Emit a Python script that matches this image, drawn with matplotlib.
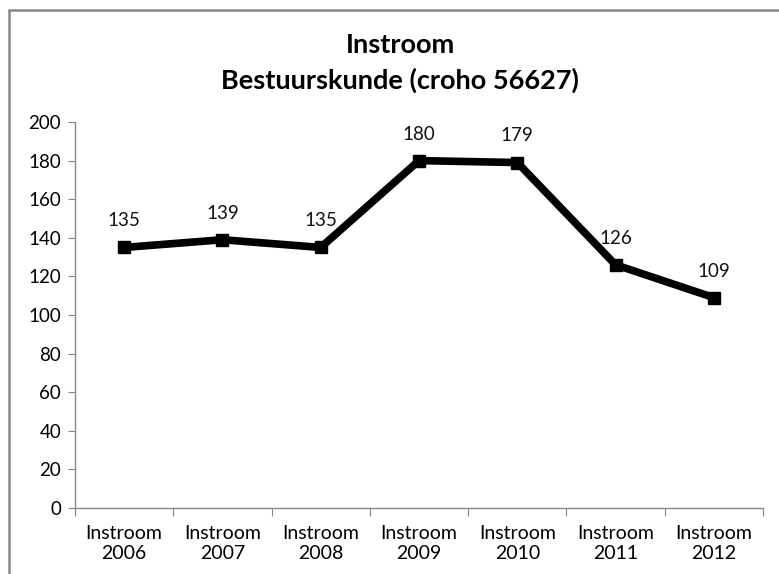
import matplotlib
matplotlib.use('Agg')
import matplotlib.pyplot as plt
from matplotlib.patches import Rectangle

plt.rcParams['font.family'] = ['Lato', 'DejaVu Sans']

categories = ['Instroom\n2006', 'Instroom\n2007', 'Instroom\n2008', 'Instroom\n2009',
              'Instroom\n2010', 'Instroom\n2011', 'Instroom\n2012']
values = [135, 139, 135, 180, 179, 126, 109]
yticks = [0, 20, 40, 60, 80, 100, 120, 140, 160, 180, 200]

W, H = 779, 574
fig = plt.figure(figsize=(W / 100, H / 100), dpi=100)
fig.patch.set_facecolor('white')

# chart border (cropped on right/bottom)
fig.add_artist(Rectangle((9 / W, -0.05), 1.2, 1 - 10 / H + 0.05,
                         transform=fig.transFigure, facecolor='none',
                         edgecolor='#868686', lw=1.8))

ax = fig.add_axes([75 / W, 1 - 508 / H, (763 - 75) / W, (508 - 122) / H])
x = list(range(len(values)))
ax.plot(x, values, color='black', lw=5.5, marker='s', markersize=8, zorder=3)
for xi, v in zip(x, values):
    ax.annotate(str(v), (xi, v), xytext=(0, 13), textcoords='offset points',
                ha='center', va='bottom', fontsize=13.5, color='#111111')

ax.set_xlim(-0.5, len(values) - 0.5)
ax.set_ylim(0, 200)
ax.set_yticks(yticks)
ax.tick_params(axis='y', labelsize=13.5, length=5, color='#868686', pad=5)
ax.set_xticks([i - 0.5 for i in range(len(values) + 1)])
ax.set_xticklabels([])
ax.set_xticks(x, minor=True)
ax.set_xticklabels(categories, minor=True, fontsize=14, linespacing=1.25)
ax.tick_params(axis='x', which='major', length=6, color='#868686')
ax.tick_params(axis='x', which='minor', length=0, pad=12)
for s in ['top', 'right']:
    ax.spines[s].set_visible(False)
for s in ['left', 'bottom']:
    ax.spines[s].set_color('#868686')
    ax.spines[s].set_linewidth(1.0)

fig.text(400 / W, 1 - 45 / H, 'Instroom', ha='center', va='center',
         fontsize=19.5, fontweight='bold')
fig.text(400 / W, 1 - 80 / H, 'Bestuurskunde (croho 56627)', ha='center', va='center',
         fontsize=19.5, fontweight='bold')

fig.savefig('out.png', dpi=100)
